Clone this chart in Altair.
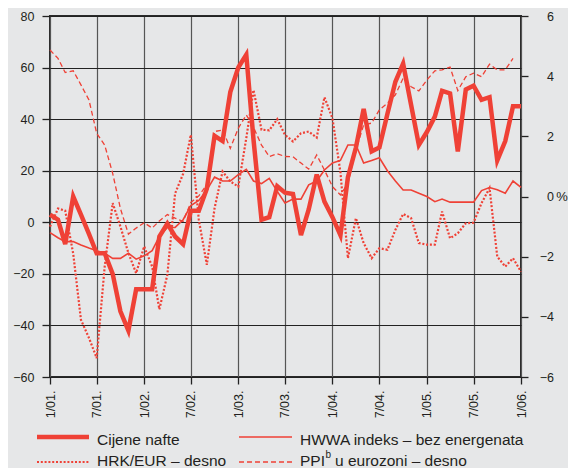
import altair as alt
import pandas as pd

# ---- data ----
months = pd.date_range("2001-01-01", periods=61, freq="MS")

oil = [3, 1, -8.5, 10, 3, -4.5, -12, -12, -20, -34.5, -42, -26, -26, -26, -5.5, -0.5,
       -5.5, -8.5, 4.5, 4.5, 13, 33.5, 31.5, 50.5, 60, 65, 32, 1, 2, 14,
       11.5, 11, -5, 5, 18.5, 8, 2, -5, 17.5, 29, 44, 27.5, 29, 42, 54.5,
       61.5, 45.5, 30, 35, 41, 51, 50, 27.5, 51.5, 53, 47.5, 48.5, 24, 31.5, 45, 45]

hwwa = [-4, -6, -7.5, -7.5, -8.8, -10, -11, -12, -14, -14, -12, -14.3, -13, -11, -5.5, -2,
        -2, 1, 6.5, 8.5, 12.5, 17.5, 16, 16, 18.5, 20.5, 16, 15, 17, 12,
        7.5, 9, 9, 14.5, 16, 20.3, 23, 24, 30, 30, 23, 24, 25, 20, 16,
        12.5, 12.5, 11.3, 10, 8, 9, 7.8, 7.8, 7.8, 7.8, 12.3, 13.5, 12.6, 11.3, 16, 13.5]

hrk = [-1.0, -0.4, -0.47, -1.9, -4.1, -4.7, -5.37, -2.33, -0.22, -1.0, -1.88, -2.55, -1.66,
       -2.33, -3.75, -2.6, 0.1, 0.75, 2.05, -0.78, -2.27, -0.39, 0.83, 0.5, 0.33, 1.94,
       3.54, 2.22, 2.2, 2.57, 2.05, 1.83, 2.1, 2.16, 1.96, 3.3, 2.6, 0.8, -2.05, -0.72,
       -1.55, -2.05, -1.72, -1.77, -1.11, -0.58, -0.72, -1.55, -1.6, -1.6, -0.5, -1.39,
       -1.22, -0.89, -0.87, -0.22, 0.28, -2.0, -2.33, -2.05, -2.5]

ppi = [4.87, 4.59, 4.12, 4.18, 3.71, 3.21, 2.1, 1.71, 0.77, -0.4, -1.25, -1.05, -0.87,
       -1.05, -0.81, -0.6, -0.72, -0.83, -0.2, 0.02, 0.4, 2.16, 2.21, 1.6, 2.27, 2.71,
       2.3, 1.71, 1.33, 1.42, 1.33, 1.32, 1.11, 0.91, 1.38, 0.88, 0.33, 0.05, 0.44, 1.55,
       2.38, 2.44, 2.88, 3.1, 3.38, 3.93, 3.65, 3.51, 3.87, 4.18, 4.21, 4.3, 3.52, 3.98,
       4.1, 3.98, 4.4, 4.21, 4.21, 4.59, None]

tick_months = [(2001, 1), (2001, 7), (2002, 1), (2002, 7), (2003, 1), (2003, 7),
               (2004, 1), (2004, 7), (2005, 1), (2005, 7), (2006, 1)]
left_ticks = [-60, -40, -20, 0, 20, 40, 60, 80]
right_ticks = [-6, -4, -2, 0, 2, 4, 6]

legend_labels = ["Cijene nafte", "HWWA indeks – bez energenata", "HRK/EUR – desno",
                 "PPI", "b", "u eurozoni – desno"]

df = pd.DataFrame({"date": months, "oil": oil, "hwwa": hwwa, "hrk": hrk, "ppi": ppi})

RED = "#ef4136"
TXT = "#231f20"
FONT = "Liberation Sans, Arial, Helvetica, sans-serif"

xaxis = alt.Axis(values=[alt.DateTime(year=y, month=m, date=1) for y, m in tick_months],
                 format="%-m/%y.", labelAngle=270, labelFontSize=12.5, labelColor=TXT,
                 labelPadding=6, tickSize=7, tickColor="#222", tickWidth=1.3,
                 grid=True, gridColor="#555", gridWidth=1.2, domain=False, title=None,
                 labelFont=FONT)
x = alt.X("date:T", axis=xaxis,
          scale=alt.Scale(domain=[alt.DateTime(year=2001, month=1, date=1),
                                  alt.DateTime(year=2006, month=1, date=1)]))

laxis = alt.Axis(values=left_ticks, labelFontSize=12.5, labelColor=TXT, labelPadding=8,
                 tickSize=8, tickColor="#222", tickWidth=1.3, grid=True, gridColor="#222",
                 gridWidth=1.2, domain=False, title=None, labelFont=FONT)
lscale = alt.Scale(domain=[-60, 80], nice=False, zero=False)

raxis = alt.Axis(values=right_ticks, orient="right", labelFontSize=12.5, labelColor=TXT,
                 labelAlign="right", labelPadding=25.5, tickSize=7, tickColor="#222",
                 tickWidth=1.3, grid=False, domain=False, title="%", titleAngle=0,
                 titleX=40.5, titleY=180, titleAlign="center", titleBaseline="middle",
                 titleFontSize=13, titleFontWeight="normal", titleColor=TXT,
                 labelFont=FONT, titleFont=FONT)
rscale = alt.Scale(domain=[-6, 6], nice=False, zero=False)

base = alt.Chart(df)

hwwa_line = base.mark_line(color=RED, strokeWidth=1.6, strokeJoin="miter").encode(
    x=x, y=alt.Y("hwwa:Q", scale=lscale, axis=laxis))
oil_line = base.mark_line(color=RED, strokeWidth=4.5, strokeJoin="miter").encode(
    x=x, y=alt.Y("oil:Q", scale=lscale, axis=laxis))
left = alt.layer(hwwa_line, oil_line)

hrk_line = base.mark_line(color=RED, strokeWidth=2.2, strokeDash=[2, 1.8]).encode(
    x=x, y=alt.Y("hrk:Q", scale=rscale, axis=raxis))
ppi_line = base.mark_line(color=RED, strokeWidth=1.3, strokeDash=[5, 3]).encode(
    x=x, y=alt.Y("ppi:Q", scale=rscale, axis=raxis))
right = alt.layer(hrk_line, ppi_line)

# ---- custom legend below the plot ----
one = alt.Chart(pd.DataFrame({"k": [0]}))


def leg_line(x1, x2, yy, width, dash=None):
    kw = dict(color=RED, strokeWidth=width)
    if dash:
        kw["strokeDash"] = dash
    return one.mark_rule(**kw).encode(x=alt.value(x1), x2=alt.value(x2), y=alt.value(yy))


def leg_text(txt, xx, yy, size=15.5):
    return one.mark_text(text=txt, align="left", baseline="alphabetic", fontSize=size,
                         color=TXT, font=FONT).encode(x=alt.value(xx), y=alt.value(yy))


r1, r2 = 421, 446
t1, t2 = 428.5, 449.5
legend = alt.layer(
    leg_line(-13, 39, r1, 4.5),
    leg_line(189, 242, r1, 1.6),
    leg_line(-13, 39, r2, 2.2, [2, 1.8]),
    leg_line(189, 242, r2, 1.3, [5, 3]),
    leg_text(legend_labels[0], 47, t1),
    leg_text(legend_labels[1], 250, t1),
    leg_text(legend_labels[2], 47, t2),
    leg_text(legend_labels[3], 250, t2),
    leg_text(legend_labels[4], 275.5, t2 - 8, 10),
    leg_text(legend_labels[5], 285, t2),
)

chart = alt.layer(left, right, legend).resolve_scale(y="independent").properties(
    width=471, height=361,
    autosize=alt.AutoSizeParams(type="none"),
    padding={"left": 42, "top": 8, "right": 47, "bottom": 91},
).configure(background="#e6e7e8").configure_view(
    stroke="#2a2a2a", strokeWidth=2, fill="#e6e7e8"
)

chart.save("out.html", embed_options={"renderer": "svg", "actions": False})
